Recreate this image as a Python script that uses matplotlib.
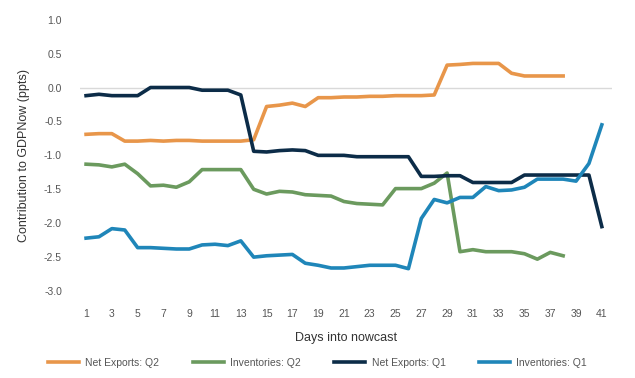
import matplotlib.pyplot as plt

plt.rcParams['font.family'] = ['Liberation Sans', 'DejaVu Sans']

days = list(range(1, 42))

net_exports_q2 = [-0.69, -0.68, -0.68, -0.79, -0.79, -0.78, -0.79, -0.78, -0.78, -0.79,
                  -0.79, -0.79, -0.79, -0.77, -0.28, -0.26, -0.23, -0.28, -0.15, -0.15,
                  -0.14, -0.14, -0.13, -0.13, -0.12, -0.12, -0.12, -0.11, 0.33, 0.34,
                  0.355, 0.355, 0.355, 0.21, 0.17, 0.17, 0.17, 0.17]

inventories_q2 = [-1.13, -1.14, -1.17, -1.13, -1.27, -1.45, -1.44, -1.47, -1.39, -1.21,
                  -1.21, -1.21, -1.21, -1.50, -1.57, -1.53, -1.54, -1.58, -1.59, -1.60,
                  -1.68, -1.71, -1.72, -1.73, -1.49, -1.49, -1.49, -1.41, -1.26, -2.42,
                  -2.39, -2.42, -2.42, -2.42, -2.45, -2.53, -2.43, -2.48]

net_exports_q1 = [-0.12, -0.10, -0.12, -0.12, -0.12, 0.0, 0.0, 0.0, 0.0, -0.04,
                  -0.04, -0.04, -0.11, -0.94, -0.95, -0.93, -0.92, -0.93, -1.00, -1.00,
                  -1.00, -1.02, -1.02, -1.02, -1.02, -1.02, -1.31, -1.31, -1.30, -1.30,
                  -1.40, -1.40, -1.40, -1.40, -1.29, -1.29, -1.29, -1.29, -1.29, -1.29,
                  -2.05]

inventories_q1 = [-2.22, -2.20, -2.08, -2.10, -2.36, -2.36, -2.37, -2.38, -2.38, -2.32,
                  -2.31, -2.33, -2.26, -2.50, -2.48, -2.47, -2.46, -2.59, -2.62, -2.66,
                  -2.66, -2.64, -2.62, -2.62, -2.62, -2.67, -1.93, -1.65, -1.70, -1.62,
                  -1.62, -1.46, -1.52, -1.51, -1.47, -1.35, -1.35, -1.35, -1.38, -1.12,
                  -0.55]

fig = plt.figure(figsize=(6.35, 3.78), dpi=100)
ax = fig.add_axes([0.126, 0.23, 0.838, 0.718])

lw = 2.6
ax.axhline(0, color='#d9d9d9', linewidth=1, zorder=0)
ax.plot(days[:len(net_exports_q2)], net_exports_q2, color='#e8964a', lw=lw, label='Net Exports: Q2')
ax.plot(days[:len(inventories_q2)], inventories_q2, color='#6b9a5e', lw=lw, label='Inventories: Q2')
ax.plot(days, net_exports_q1, color='#0c2c48', lw=lw, label='Net Exports: Q1')
ax.plot(days, inventories_q1, color='#1f86b9', lw=lw, label='Inventories: Q1')

ax.set_xlim(0.53, 41.8)
ax.set_ylim(-3.0, 1.0)
ax.set_xticks(days[::2])
ax.set_yticks([1.0, 0.5, 0.0, -0.5, -1.0, -1.5, -2.0, -2.5, -3.0])
ax.set_yticklabels(['%.1f' % v for v in ax.get_yticks()])
for s in ax.spines.values():
    s.set_visible(False)
ax.tick_params(length=0, labelsize=7.5, labelcolor='#555555')
ax.tick_params(axis='x', pad=13)
ax.tick_params(axis='y', pad=13)

ax.set_xlabel('Days into nowcast', fontsize=9, color='#333333', labelpad=9)
ax.set_ylabel('Contribution to GDPNow (ppts)', fontsize=9, color='#333333', labelpad=10)

fig.legend(loc='center', bbox_to_anchor=(0.5, 0.04), ncol=4, frameon=False,
           fontsize=7.5, handlelength=3.0, handletextpad=0.6, columnspacing=3.2,
           labelcolor='#555555')

fig.savefig('out.png', dpi=100)
